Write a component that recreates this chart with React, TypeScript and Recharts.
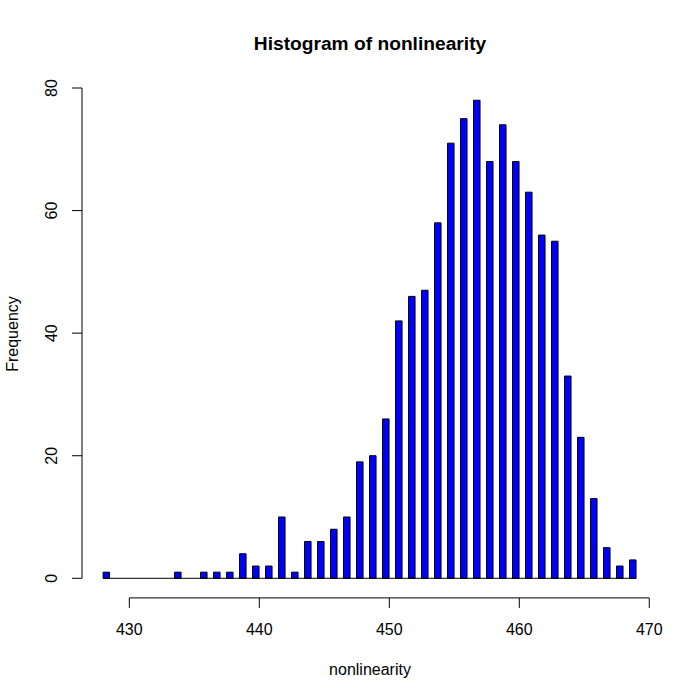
import { BarChart, Bar, XAxis, YAxis, ReferenceLine } from "recharts";

// histogram bins of width 0.5, only the non-empty ones listed
const binWidth = 0.5;
const binStarts = [
  428, 433.5, 435.5, 436.5, 437.5, 438.5, 439.5, 440.5, 441.5, 442.5,
  443.5, 444.5, 445.5, 446.5, 447.5, 448.5, 449.5, 450.5, 451.5, 452.5,
  453.5, 454.5, 455.5, 456.5, 457.5, 458.5, 459.5, 460.5, 461.5, 462.5,
  463.5, 464.5, 465.5, 466.5, 467.5, 468.5,
];
const counts = [
  1, 1, 1, 1, 1, 4, 2, 2, 10, 1,
  6, 6, 8, 10, 19, 20, 26, 42, 46, 47,
  58, 71, 75, 78, 68, 74, 68, 63, 56, 55,
  33, 23, 13, 5, 2, 3,
];
const xTicks = [430, 440, 450, 460, 470];
const yTicks = [0, 20, 40, 60, 80];

const data = binStarts.map((s, i) => ({ mid: s + binWidth / 2, count: counts[i] }));

// R style: data range padded by 4% on each side
const xLo = binStarts[0];
const xHi = binStarts[binStarts.length - 1] + binWidth;
const xPad = (xHi - xLo) * 0.04;
const xDomain = [xLo - xPad, xHi + xPad];
const yPad = (yTicks[yTicks.length - 1] - yTicks[0]) * 0.04;
const yDomain = [yTicks[0] - yPad, yTicks[yTicks.length - 1] + yPad];

const FONT = '"Liberation Sans", Arial, Helvetica, sans-serif';

function XTick({ x, y, payload }: any) {
  return (
    <text x={x} y={y + 25} textAnchor="middle" fontSize={16} fontFamily={FONT} fill="#000">
      {payload.value}
    </text>
  );
}

function YTick({ x, y, payload }: any) {
  return (
    <text
      x={x}
      y={y}
      transform={`rotate(-90, ${x}, ${y})`}
      textAnchor="middle"
      fontSize={16}
      fontFamily={FONT}
      fill="#000"
    >
      {payload.value}
    </text>
  );
}

export default function App() {
  return (
    <div style={{ position: "absolute", left: 0, top: 0, width: 700, height: 700, background: "#fff" }}>
      <BarChart
        width={700}
        height={700}
        data={data}
        margin={{ top: 68.4, right: 42.4, left: 22, bottom: 62.1 }}
      >
        <XAxis
          type="number"
          dataKey="mid"
          domain={xDomain}
          allowDataOverflow
          ticks={xTicks}
          axisLine={false}
          tickLine={{ stroke: "#000" }}
          tickSize={10}
          tickMargin={2}
          height={40}
          tick={<XTick />}
        />
        <YAxis
          type="number"
          domain={yDomain}
          allowDataOverflow
          ticks={yTicks}
          axisLine={false}
          tickLine={{ stroke: "#000" }}
          tickSize={10}
          tickMargin={15}
          width={60}
          tick={<YTick />}
        />
        <ReferenceLine
          segment={[{ x: xLo, y: 0 }, { x: xHi, y: 0 }]}
          stroke="#000"
          ifOverflow="visible"
        />
        <Bar
          dataKey="count"
          fill="#0000ff"
          stroke="#000"
          strokeWidth={1}
          barSize={6.5}
          isAnimationActive={false}
        />
        <ReferenceLine
          segment={[{ x: xTicks[0], y: yDomain[0] }, { x: xTicks[xTicks.length - 1], y: yDomain[0] }]}
          stroke="#000"
          ifOverflow="visible"
        />
        <ReferenceLine
          segment={[{ x: xDomain[0], y: yTicks[0] }, { x: xDomain[0], y: yTicks[yTicks.length - 1] }]}
          stroke="#000"
          ifOverflow="visible"
        />
      </BarChart>
      <svg width={700} height={700} style={{ position: "absolute", left: 0, top: 0, pointerEvents: "none" }}>
        <text x={370} y={50} textAnchor="middle" fontSize={19.2} fontWeight="bold" fontFamily={FONT}>
          Histogram of nonlinearity
        </text>
        <text x={370} y={675} textAnchor="middle" fontSize={16} fontFamily={FONT}>
          nonlinearity
        </text>
        <text
          x={18}
          y={334}
          transform="rotate(-90, 18, 334)"
          textAnchor="middle"
          fontSize={16}
          fontFamily={FONT}
        >
          Frequency
        </text>
      </svg>
    </div>
  );
}
